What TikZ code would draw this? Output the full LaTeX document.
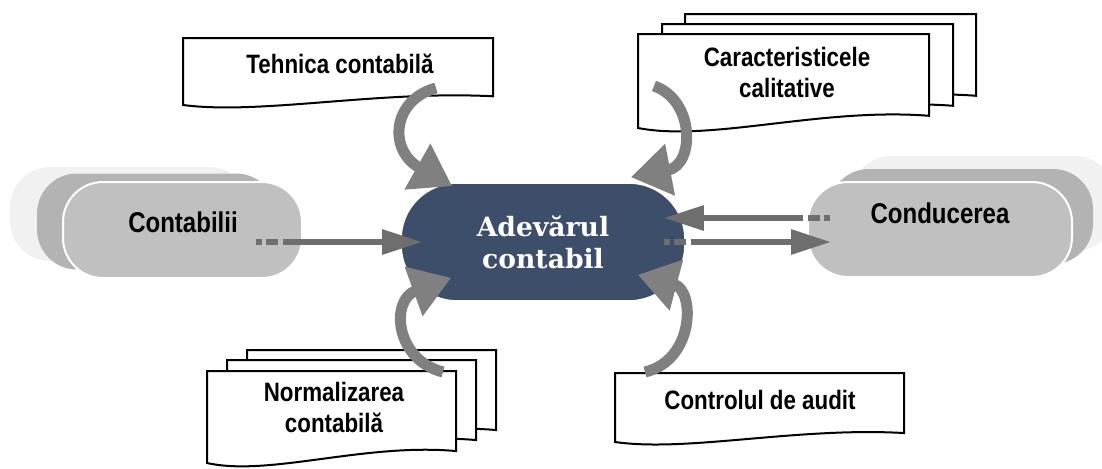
\documentclass[tikz,border=0pt]{standalone}
\usepackage{fontspec}
\usetikzlibrary{arrows.meta}
\newfontfamily\narrowfont[FakeStretch=0.84]{Liberation Sans}
\newfontfamily\slabfont{DejaVu Serif}
\definecolor{hubblue}{RGB}{61,78,106}
\definecolor{frontgray}{RGB}{192,192,192}
\definecolor{midgray}{RGB}{179,179,179}
\definecolor{fargray}{RGB}{241,241,241}
\definecolor{flowgray}{RGB}{110,110,110}
\definecolor{curlgray}{RGB}{128,128,128}
\tikzset{%
	pill/.style     	= {draw=white, line width=1pt, rectangle, rounded corners=20pt, fill=frontgray},
	midpill/.style  	= {rectangle, rounded corners=20pt, fill=midgray},
	farpill/.style  	= {rectangle, rounded corners=20pt, fill=fargray},
	hub/.style      	= {draw=white, line width=0.8pt, rectangle, rounded corners=28pt, fill=hubblue, minimum width=142pt, minimum height=59pt, text=white, align=center, font=\slabfont\bfseries\fontsize{13.3pt}{16pt}\selectfont},
	sheet/.style    	= {draw, line width=1pt, fill=white}, % Document
	doctext/.style  	= {align=center, font=\narrowfont\bfseries\fontsize{13.3pt}{15.5pt}\selectfont},
	pilltext/.style 	= {font=\narrowfont\bfseries\fontsize{14.3pt}{16pt}\selectfont},
	flow/.style     	= {line width=3pt, draw=flowgray, -{Triangle[length=20pt, width=12pt]}},
	tail/.style     	= {dash pattern=on 3pt off 2pt on 6pt off 2.5pt on 400pt},
	curl/.style     	= {line width=5.5pt, draw=curlgray, -{Triangle[length=20pt, width=25pt]}}
}
% #1,#2 = top left corner, #3 = width, #4 = height
\newcommand{\docsheet}[4]{%
	\draw[sheet] (#1,#2) -- ({#1+#3},#2) -- ({#1+#3},{#2+0.87*#4})
		.. controls ({#1+0.63*#3},{#2+0.78*#4}) and ({#1+0.25*#3},{#2+1.15*#4}) .. (#1,{#2+#4}) -- cycle;
}

\begin{document}
\begin{tikzpicture}[x=0.5pt, y=-0.5pt]
	\useasboundingbox (0,0) rectangle (1102,468);

	% Documents
	\docsheet{183}{38}{310}{67}
	\docsheet{685}{14}{291}{94}
	\docsheet{662}{24}{291}{94}
	\docsheet{638}{34}{291}{94}
	\docsheet{247}{350}{249}{92}
	\docsheet{227}{360}{249}{92}
	\docsheet{207}{371}{249}{92}
	\docsheet{615}{373}{289}{69}

	\draw % Drawing the actors and the central block :
	node at (129.5,214) [farpill, minimum width=119.5pt, minimum height=47pt] {}
	node at (156.5,221.5) [midpill, minimum width=119.5pt, minimum height=48pt] {}
	node at (182.5,230) [pill, minimum width=119.5pt, minimum height=48pt] (contabilii) {}
	node at (183,222) [pilltext] {Contabilii}
	node at (983,203.5) [farpill, minimum width=132pt, minimum height=47.5pt] {}
	node at (961,216.5) [midpill, minimum width=132pt, minimum height=47.5pt] {}
	node at (940,229.5) [pill, minimum width=132pt, minimum height=47.5pt] (conducerea) {}
	node at (940,213) [pilltext] {Conducerea}
	node at (543,242) [hub] (adevar) {Adevărul\\contabil}
	node at (340,64) [doctext] (tehnica) {Tehnica contabilă}
	node at (787,72) [doctext] (caracteristici) {Caracteristicele\\calitative}
	node at (334,407) [doctext] (normalizare) {Normalizarea\\contabilă}
	node at (760,400) [doctext] (control) {Controlul de audit}
	;

	% Free ends of the curved arrows
	\coordinate (tehnicaOut) at (436,88);
	\coordinate (caracteristiciOut) at (654,86);
	\coordinate (normalizareOut) at (443,372);
	\coordinate (controlOut) at (645,372);

	% Straight arrows
	\draw[flow, tail] ([xshift=-23.5pt, yshift=-6pt]contabilii.east) -- ([xshift=11pt]adevar.west);
	\draw[flow, tail] ([xshift=-11pt]adevar.east) -- ([xshift=12pt, yshift=-6.25pt]conducerea.west);
	\draw[flow, tail] ([xshift=11.5pt, yshift=5.75pt]conducerea.west) -- ([xshift=-11pt, yshift=12pt]adevar.east);

	% Curved arrows
	\draw[curl] (tehnicaOut) .. controls (392,100) and (388,150) .. ([xshift=26pt, yshift=-2pt]adevar.north west);
	\draw[curl] (caracteristiciOut) .. controls (695,100) and (695,165) .. ([xshift=-27.5pt, yshift=2.5pt]adevar.north east);
	\draw[curl] (normalizareOut) .. controls (395,360) and (390,300) .. ([xshift=25.5pt, yshift=12pt]adevar.south west);
	\draw[curl] (controlOut) .. controls (695,360) and (695,290) .. ([xshift=-24pt, yshift=13.5pt]adevar.south east);
\end{tikzpicture}
\end{document}
